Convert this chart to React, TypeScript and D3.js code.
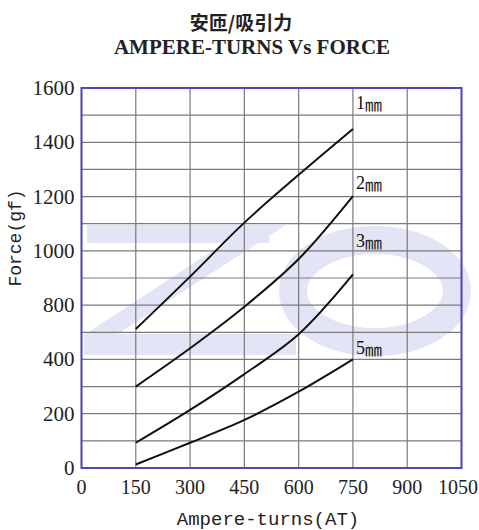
import React from 'react';
import * as d3 from 'd3';

// values
const ampereTurns = [150, 300, 450, 600, 750];
const force1mm = [624, 905, 1104, 1280, 1449];
const force2mm = [300, 482, 788, 970, 1202];
const force3mm = [93, 214, 346, 585, 913];
const force5mm = [13, 93, 177, 281, 400];

const seriesNames = ['1㎜', '2㎜', '3㎜', '5㎜'];
const seriesValues = [force1mm, force2mm, force3mm, force5mm];
const labelForce = [1545, 1250, 1035, 485];

const xTicks = [0, 150, 300, 450, 600, 750, 900, 1050];
// the original axis skips 600
const yTicks = [0, 200, 400, 800, 1000, 1200, 1400, 1600];

const W = 479;
const H = 530;
const left = 81.5;
const right = 461.5;
const top = 88;
const bottom = 468;

const serif = '"Liberation Serif", "Times New Roman", serif';
const mono = '"Liberation Mono", "DejaVu Sans Mono", monospace';
const cjk = '"Noto Sans CJK SC", sans-serif';

export default function App() {
  const x = d3.scaleLinear().domain([0, 1050]).range([left, right]);
  const step = (bottom - top) / (yTicks.length - 1);
  const y = d3
    .scaleLinear()
    .domain(yTicks)
    .range(yTicks.map((_, i) => bottom - i * step));

  // grid every half label step
  const hLines: number[] = [];
  yTicks.forEach((t, i) => {
    hLines.push(y(t));
    if (i < yTicks.length - 1) hLines.push((y(t) + y(yTicks[i + 1])) / 2);
  });

  const line = d3
    .line<[number, number]>()
    .x((d) => x(d[0]))
    .y((d) => y(d[1]))
    .curve(d3.curveCatmullRom.alpha(0.5));

  const wm = '#e3e4f5';

  return (
    <svg
      width={W}
      height={H}
      style={{ position: 'absolute', left: 0, top: 0, background: '#fff' }}
    >
      <rect width={W} height={H} fill="#fff" />

      {/* watermark */}
      <g fill={wm}>
        <rect x={87} y={225} width={182} height={18} />
        <polygon points="252,225 286,225 116,335 84,335" />
        <rect x={84} y={334} width={212} height={21} />
        <ellipse cx={375} cy={291} rx={82} ry={51} fill="none" stroke={wm} strokeWidth={28} />
      </g>

      {/* grid */}
      <g stroke="#7a7a7a" strokeWidth={1.2}>
        {hLines.map((v, i) => (
          <line key={'h' + i} x1={left} x2={right} y1={v} y2={v} />
        ))}
        {xTicks.map((t) => (
          <line key={'v' + t} x1={x(t)} x2={x(t)} y1={top} y2={bottom} />
        ))}
      </g>
      <rect
        x={left}
        y={top}
        width={right - left}
        height={bottom - top}
        fill="none"
        stroke="#4b4bb6"
        strokeWidth={2}
      />

      {/* curves */}
      {seriesValues.map((vals, i) => (
        <path
          key={seriesNames[i]}
          d={line(ampereTurns.map((a, j) => [a, vals[j]]) as [number, number][]) || ''}
          fill="none"
          stroke="#111"
          strokeWidth={2}
        />
      ))}
      {seriesNames.map((n, i) => (
        <text
          key={'l' + n}
          x={x(750) + 3}
          y={y(labelForce[i])}
          dominantBaseline="central"
          fontFamily={serif}
          fontSize={18}
          fill="#111"
        >
          {n[0]}
          <tspan fontFamily={cjk} fontSize={17}>{n.slice(1)}</tspan>
        </text>
      ))}

      {/* axis labels */}
      {yTicks.map((t) => (
        <text
          key={'yt' + t}
          x={left - 7}
          y={y(t)}
          textAnchor="end"
          dominantBaseline="central"
          fontFamily={serif}
          fontSize={21}
          fill="#222"
        >
          {t}
        </text>
      ))}
      {xTicks.map((t, i) => {
        const last = i === xTicks.length - 1;
        return (
          <text
            key={'xt' + t}
            x={last ? W - 1 : x(t)}
            y={bottom + 19}
            textAnchor={last ? 'end' : 'middle'}
            dominantBaseline="central"
            fontFamily={serif}
            fontSize={20}
            fill="#222"
          >
            {t}
          </text>
        );
      })}

      <text
        x={268}
        y={520}
        textAnchor="middle"
        dominantBaseline="central"
        fontFamily={mono}
        fontSize={19}
        fill="#222"
      >
        Ampere-turns(AT)
      </text>
      <text
        transform="translate(16,238) rotate(-90)"
        textAnchor="middle"
        dominantBaseline="central"
        fontFamily={mono}
        fontSize={18}
        fill="#222"
      >
        Force(gf)
      </text>

      {/* title */}
      <text
        x={241}
        y={21}
        textAnchor="middle"
        dominantBaseline="central"
        fontFamily={cjk}
        fontWeight={700}
        fontSize={19}
        fill="#222"
      >
        安匝/吸引力
      </text>
      <text
        x={252}
        y={47}
        textAnchor="middle"
        dominantBaseline="central"
        fontFamily={serif}
        fontWeight={700}
        fontSize={21}
        fill="#222"
      >
        AMPERE-TURNS Vs FORCE
      </text>
    </svg>
  );
}
